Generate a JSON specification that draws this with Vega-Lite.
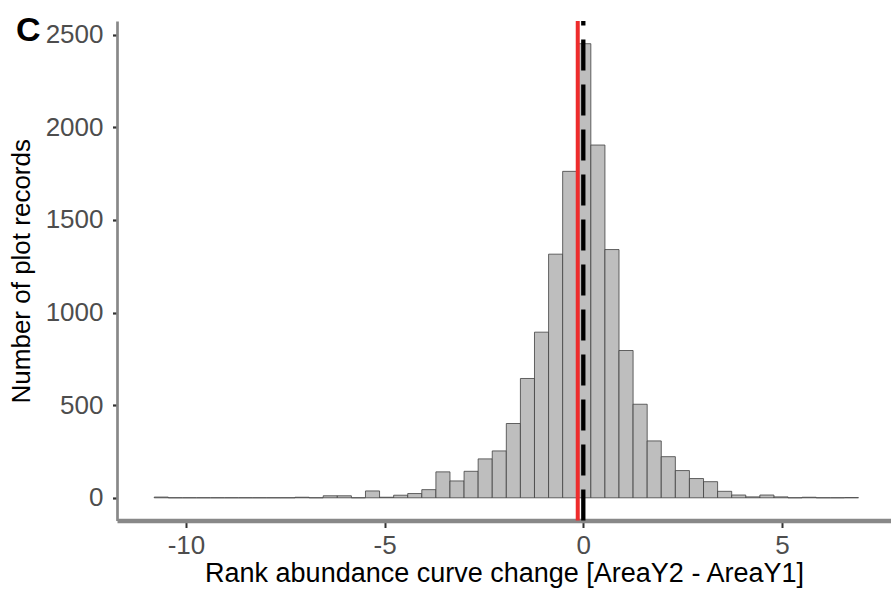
{
  "$schema": "https://vega.github.io/schema/vega-lite/v6.json",
  "autosize": {"type": "none"},
  "padding": {"left": 117, "top": 21, "right": 0, "bottom": 73.5},
  "width": 774,
  "height": 499.5,
  "background": "white",
  "title": {
    "text": "C",
    "anchor": "start",
    "frame": "group",
    "orient": "top",
    "offset": -35,
    "baseline": "alphabetic",
    "dx": -101,
    "dy": 21,
    "fontSize": 34,
    "fontWeight": "bold",
    "font": "Liberation Sans",
    "color": "black"
  },
  "config": {
    "view": {"stroke": null},
    "font": "Liberation Sans",
    "axis": {
      "grid": false,
      "labelFont": "Liberation Sans",
      "titleFont": "Liberation Sans",
      "labelColor": "#4d4d4d",
      "titleColor": "black",
      "titleFontWeight": "normal",
      "domainColor": "#888888",
      "tickColor": "#333333"
    }
  },
  "datasets": {
    "bins": [
      {"bin_start": -10.8000, "bin_end": -10.4455, "count": 4},
      {"bin_start": -10.4455, "bin_end": -10.0910, "count": 0},
      {"bin_start": -10.0910, "bin_end": -9.7365, "count": 0},
      {"bin_start": -9.7365, "bin_end": -9.3820, "count": 0},
      {"bin_start": -9.3820, "bin_end": -9.0275, "count": 0},
      {"bin_start": -9.0275, "bin_end": -8.6730, "count": 0},
      {"bin_start": -8.6730, "bin_end": -8.3185, "count": 0},
      {"bin_start": -8.3185, "bin_end": -7.9640, "count": 0},
      {"bin_start": -7.9640, "bin_end": -7.6095, "count": 0},
      {"bin_start": -7.6095, "bin_end": -7.2550, "count": 0},
      {"bin_start": -7.2550, "bin_end": -6.9005, "count": 3},
      {"bin_start": -6.9005, "bin_end": -6.5460, "count": 0},
      {"bin_start": -6.5460, "bin_end": -6.1915, "count": 11},
      {"bin_start": -6.1915, "bin_end": -5.8370, "count": 11},
      {"bin_start": -5.8370, "bin_end": -5.4825, "count": 0},
      {"bin_start": -5.4825, "bin_end": -5.1280, "count": 37},
      {"bin_start": -5.1280, "bin_end": -4.7735, "count": 3},
      {"bin_start": -4.7735, "bin_end": -4.4190, "count": 14},
      {"bin_start": -4.4190, "bin_end": -4.0645, "count": 23},
      {"bin_start": -4.0645, "bin_end": -3.7100, "count": 44},
      {"bin_start": -3.7100, "bin_end": -3.3555, "count": 140},
      {"bin_start": -3.3555, "bin_end": -3.0010, "count": 91},
      {"bin_start": -3.0010, "bin_end": -2.6465, "count": 143},
      {"bin_start": -2.6465, "bin_end": -2.2920, "count": 210},
      {"bin_start": -2.2920, "bin_end": -1.9375, "count": 253},
      {"bin_start": -1.9375, "bin_end": -1.5830, "count": 401},
      {"bin_start": -1.5830, "bin_end": -1.2285, "count": 644},
      {"bin_start": -1.2285, "bin_end": -0.8740, "count": 894},
      {"bin_start": -0.8740, "bin_end": -0.5195, "count": 1315},
      {"bin_start": -0.5195, "bin_end": -0.1650, "count": 1762},
      {"bin_start": -0.1650, "bin_end": 0.1895, "count": 2451},
      {"bin_start": 0.1895, "bin_end": 0.5440, "count": 1904},
      {"bin_start": 0.5440, "bin_end": 0.8985, "count": 1340},
      {"bin_start": 0.8985, "bin_end": 1.2530, "count": 795},
      {"bin_start": 1.2530, "bin_end": 1.6075, "count": 505},
      {"bin_start": 1.6075, "bin_end": 1.9620, "count": 307},
      {"bin_start": 1.9620, "bin_end": 2.3165, "count": 222},
      {"bin_start": 2.3165, "bin_end": 2.6710, "count": 147},
      {"bin_start": 2.6710, "bin_end": 3.0255, "count": 104},
      {"bin_start": 3.0255, "bin_end": 3.3800, "count": 87},
      {"bin_start": 3.3800, "bin_end": 3.7345, "count": 35},
      {"bin_start": 3.7345, "bin_end": 4.0890, "count": 15},
      {"bin_start": 4.0890, "bin_end": 4.4435, "count": 5},
      {"bin_start": 4.4435, "bin_end": 4.7980, "count": 15},
      {"bin_start": 4.7980, "bin_end": 5.1525, "count": 5},
      {"bin_start": 5.1525, "bin_end": 5.5070, "count": 0},
      {"bin_start": 5.5070, "bin_end": 5.8615, "count": 3},
      {"bin_start": 5.8615, "bin_end": 6.2160, "count": 0},
      {"bin_start": 6.2160, "bin_end": 6.5705, "count": 0},
      {"bin_start": 6.5705, "bin_end": 6.9250, "count": 1}
    ],
    "lines": [
      {"kind": "mean", "value": -0.14},
      {"kind": "zero", "value": 0}
    ]
  },
  "layer": [
    {
      "data": {"name": "bins"},
      "mark": {"type": "rect", "fill": "#bebebe", "stroke": "#404040", "strokeWidth": 0.8},
      "encoding": {
        "x": {
          "field": "bin_start",
          "type": "quantitative",
          "scale": {"domain": [-11.736, 7.744], "nice": false, "zero": false},
          "axis": {
            "title": "Rank abundance curve change [AreaY2 - AreaY1]",
            "values": [-10, -5, 0, 5],
            "labelExpr": "'' + datum.value",
            "domainWidth": 4.5,
            "tickWidth": 2,
            "tickSize": 7,
            "labelFontSize": 26,
            "labelPadding": 5,
            "titleFontSize": 27,
            "titlePadding": 2
          }
        },
        "x2": {"field": "bin_end"},
        "y": {
          "field": "count",
          "type": "quantitative",
          "scale": {"domain": [-122.5, 2573.5], "nice": false, "zero": false},
          "axis": {
            "title": "Number of plot records",
            "values": [0, 500, 1000, 1500, 2000, 2500],
            "labelExpr": "'' + datum.value",
            "domainWidth": 2.7,
            "tickWidth": 2.2,
            "tickSize": 4.5,
            "labelFontSize": 26,
            "labelPadding": 9.5,
            "titleFontSize": 26,
            "titlePadding": 11
          }
        },
        "y2": {"datum": 0}
      }
    },
    {
      "data": {"name": "lines"},
      "transform": [{"filter": "datum.kind === 'mean'"}],
      "mark": {"type": "rule", "color": "#EE2C2C", "strokeWidth": 4},
      "encoding": {
        "x": {"field": "value", "type": "quantitative"}
      }
    },
    {
      "data": {"name": "lines"},
      "transform": [{"filter": "datum.kind === 'zero'"}],
      "mark": {"type": "rule", "color": "black", "strokeWidth": 4.3, "strokeDash": [31, 14], "strokeDashOffset": 26.5},
      "encoding": {
        "x": {"field": "value", "type": "quantitative"}
      }
    }
  ]
}
